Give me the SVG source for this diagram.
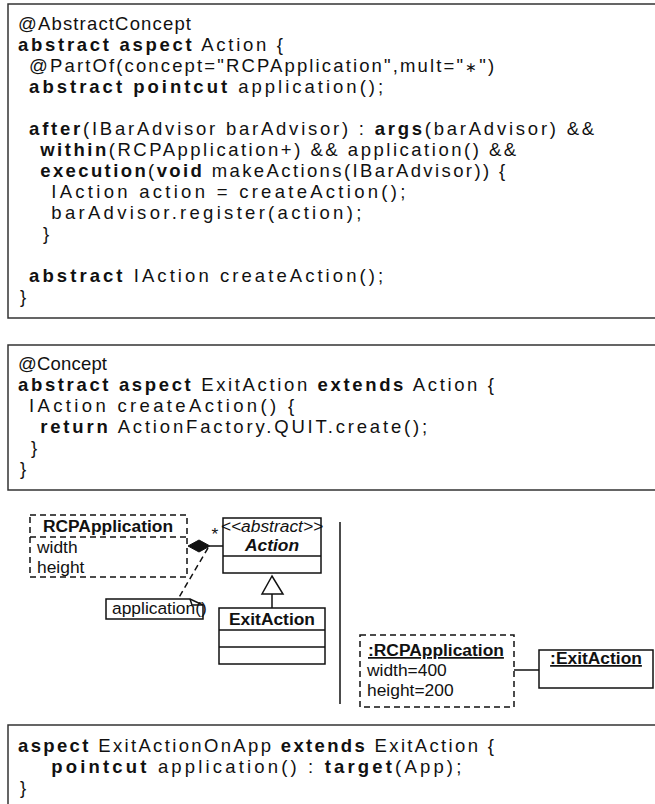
<svg xmlns="http://www.w3.org/2000/svg" width="655" height="804" viewBox="0 0 655 804">
<style>
.code{font-family:"Liberation Sans",Arial,sans-serif;font-size:18.5px;fill:#111}
.b{font-weight:bold}
.frame{stroke:#333;stroke-width:1.5;fill:none}
.box{stroke:#111;stroke-width:1.5;fill:#fff}
.dbox{stroke:#111;stroke-width:1.5;fill:#fff;stroke-dasharray:6 4}
.dl{stroke:#111;stroke-width:1.5;fill:none;stroke-dasharray:6 4}
.ln{stroke:#111;stroke-width:1.5;fill:none}
.t{font-family:"Liberation Sans",Arial,sans-serif;font-size:17.4px;fill:#111}
.tb{font-family:"Liberation Sans",Arial,sans-serif;font-size:17.4px;font-weight:bold;fill:#111}
.u{text-decoration:underline}
</style>
<rect width="655" height="804" fill="#fff"/>

<g id="code-action">
<path class="frame" d="M655,4 H8 V318 H655"/>
<text class="code" x="18" y="29.5" textLength="173" lengthAdjust="spacing">@AbstractConcept</text>
<text class="code" x="18" y="50.5" textLength="265" lengthAdjust="spacing"><tspan class="b">abstract</tspan> <tspan class="b">aspect</tspan> Action {</text>
<text class="code" x="29.1" y="71.5" textLength="465" lengthAdjust="spacing">@PartOf(concept="RCPApplication",mult="<tspan font-size="14">∗</tspan>")</text>
<text class="code" x="29.1" y="92.5" textLength="354" lengthAdjust="spacing"><tspan class="b">abstract</tspan> <tspan class="b">pointcut</tspan> application();</text>
<text class="code" x="29.1" y="134.5" textLength="565" lengthAdjust="spacing"><tspan class="b">after</tspan>(IBarAdvisor barAdvisor) : <tspan class="b">args</tspan>(barAdvisor) &amp;&amp;</text>
<text class="code" x="40.2" y="155.5" textLength="476" lengthAdjust="spacing"><tspan class="b">within</tspan>(RCPApplication+) &amp;&amp; application() &amp;&amp;</text>
<text class="code" x="40.2" y="176.5" textLength="465" lengthAdjust="spacing"><tspan class="b">execution</tspan>(<tspan class="b">void</tspan> makeActions(IBarAdvisor)) {</text>
<text class="code" x="51.3" y="197.5" textLength="354" lengthAdjust="spacing">IAction action = createAction();</text>
<text class="code" x="51.3" y="218.5" textLength="310" lengthAdjust="spacing">barAdvisor.register(action);</text>
<text class="code" x="43" y="239.5">}</text>
<text class="code" x="29.1" y="281.5" textLength="354" lengthAdjust="spacing"><tspan class="b">abstract</tspan> IAction createAction();</text>
<text class="code" x="20" y="302.5">}</text>
</g>

<g id="code-exitaction">
<path class="frame" d="M655,345 H8 V490 H655"/>
<text class="code" x="18" y="369.5" textLength="89" lengthAdjust="spacing">@Concept</text>
<text class="code" x="18" y="390.5" textLength="476" lengthAdjust="spacing"><tspan class="b">abstract</tspan> <tspan class="b">aspect</tspan> ExitAction <tspan class="b">extends</tspan> Action {</text>
<text class="code" x="29.1" y="411.5" textLength="265" lengthAdjust="spacing">IAction createAction() {</text>
<text class="code" x="40.2" y="432.5" textLength="387" lengthAdjust="spacing"><tspan class="b">return</tspan> ActionFactory.QUIT.create();</text>
<text class="code" x="31" y="453.5">}</text>
<text class="code" x="20" y="474.5">}</text>
</g>

<g id="diagram-separator">
<line class="ln" x1="340" y1="522" x2="340" y2="704"/>
</g>

<g id="class-rcpapplication">
<rect class="dbox" x="30" y="515" width="157" height="62"/>
<line class="dl" x1="30" y1="537" x2="187" y2="537"/>
<text class="tb" x="108" y="532" text-anchor="middle">RCPApplication</text>
<text class="t" x="37" y="553">width</text>
<text class="t" x="37" y="573">height</text>
</g>

<g id="class-action">
<rect class="box" x="223" y="518" width="98" height="55"/>
<line class="ln" x1="223" y1="556" x2="321" y2="556"/>
<text class="t" x="272" y="532" text-anchor="middle" font-size="12" font-style="italic">&lt;&lt;abstract&gt;&gt;</text>
<text class="tb" x="272" y="551" text-anchor="middle" font-style="italic">Action</text>
</g>

<g id="class-exitaction">
<rect class="box" x="219" y="608" width="106" height="56"/>
<line class="ln" x1="219" y1="630" x2="325" y2="630"/>
<line class="ln" x1="219" y1="647" x2="325" y2="647"/>
<text class="tb" x="272" y="625" text-anchor="middle">ExitAction</text>
</g>

<g id="note-application">
<path class="box" d="M106,599 H190 L203,605 V619 H106 Z"/>
<path class="ln" d="M190,599 L192,605 H203" stroke-width="1"/>
<text class="t" x="112" y="614" font-size="12.8">application()</text>
</g>

<g id="object-rcpapplication">
<rect class="dbox" x="360" y="635" width="154" height="72"/>
<text class="tb u" x="368" y="656">:RCPApplication</text>
<text class="t" x="367" y="676">width=400</text>
<text class="t" x="367" y="696">height=200</text>
</g>

<g id="object-exitaction">
<rect class="box" x="539" y="650" width="114" height="38"/>
<text class="tb u" x="596" y="664" text-anchor="middle">:ExitAction</text>
</g>

<g id="connectors">
<polygon points="188,546 199,540 210,546 199,552" fill="#111" stroke="#111" stroke-width="1"/>
<line class="ln" x1="210" y1="546" x2="223" y2="546"/>
<text class="t" x="215" y="540" text-anchor="middle">*</text>
<line class="dl" x1="208" y1="548" x2="178" y2="599"/>
<polygon points="272,576 262,594 283,594" fill="#fff" stroke="#111" stroke-width="1.5"/>
<line class="ln" x1="272" y1="594" x2="272" y2="608"/>
<line class="ln" x1="514" y1="670" x2="539" y2="670"/>
</g>

<g id="code-exitactiononapp">
<path class="frame" d="M655,725 H8 V804"/>
<text class="code" x="18" y="751.5" textLength="476" lengthAdjust="spacing"><tspan class="b">aspect</tspan> ExitActionOnApp <tspan class="b">extends</tspan> ExitAction {</text>
<text class="code" x="51.3" y="772.5" textLength="410" lengthAdjust="spacing"><tspan class="b">pointcut</tspan> application() : <tspan class="b">target</tspan>(App);</text>
<text class="code" x="20" y="793.5">}</text>
</g>
</svg>
